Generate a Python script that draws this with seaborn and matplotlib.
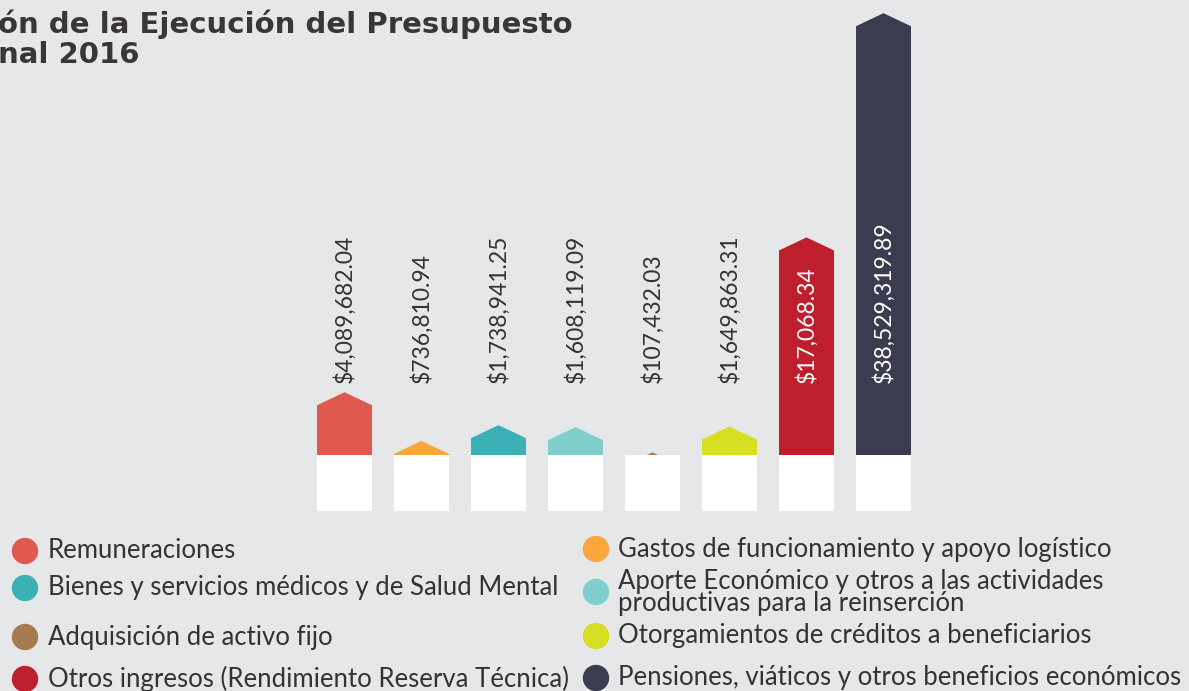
import numpy as np
import matplotlib
matplotlib.use("Agg")
import matplotlib.pyplot as plt
import seaborn as sns
from matplotlib.patches import Polygon, Rectangle
from matplotlib import transforms

# Budget execution by item (pesos)
categorias = [
    "Remuneraciones",
    "Gastos de funcionamiento y apoyo logístico",
    "Bienes y servicios médicos y de Salud Mental",
    "Aporte Económico y otros a las actividades\nproductivas para la reinserción",
    "Adquisición de activo fijo",
    "Otorgamientos de créditos a beneficiarios",
    "Otros ingresos (Rendimiento Reserva Técnica)",
    "Pensiones, viáticos y otros beneficios económicos",
]
montos = [4089682.04, 736810.94, 1738941.25, 1608119.09,
          107432.03, 1649863.31, 17068340.00, 38529319.89]
etiquetas = ["$4,089,682.04", "$736,810.94", "$1,738,941.25", "$1,608,119.09",
             "$107,432.03", "$1,649,863.31", "$17,068.34", "$38,529,319.89"]
colores = ["#e0594e", "#fba63c", "#3bb0b7", "#7fcfcf",
           "#a67b4f", "#d8df22", "#bf1e2d", "#3c3c50"]

titulo = "ón de la Ejecución del Presupuesto\nnal 2016"

FONDO = "#e6e7e9"
TEXTO = "#333333"
FUENTE = "Lato"

sns.set_theme(style="white")
plt.rcParams["font.family"] = [FUENTE, "DejaVu Sans"]

W, H = 1189, 691
fig = plt.figure(figsize=(W / 100, H / 100), dpi=100)
fig.patch.set_facecolor(FONDO)

# Bar area: zero line 455 px from the top
zero_px = 455
ax = fig.add_axes([306 / W, (H - zero_px) / H, 616 / W, zero_px / H])
ax.set_facecolor(FONDO)

sns.barplot(x=categorias, y=montos, hue=categorias, palette=colores,
            hue_order=categorias, order=categorias, legend=False,
            saturation=1, width=0.714, ax=ax)

# Compressed (power) value scale
p = 0.87
fwd = lambda y: np.sign(y) * np.abs(y) ** p
inv = lambda y: np.sign(y) * np.abs(y) ** (1 / p)
ax.set_yscale("function", functions=(fwd, inv))
ax.set_xlim(-0.5, len(categorias) - 0.5)
ax.set_ylim(0, inv(fwd(max(montos)) / 0.971))
ax.set_axis_off()

blend = transforms.blended_transform_factory(ax.transData, ax.transAxes)
roof_px = 13
base_frac = 56 / zero_px
label_y = 72 / zero_px

bars = sorted(ax.patches, key=lambda r: r.get_x())
for i, bar in enumerate(bars):
    x0, w, h = bar.get_x(), bar.get_width(), bar.get_height()
    xc, x1 = x0 + w / 2, x0 + w
    bar.set_visible(False)
    # house-shaped bar: body plus a pointed roof ending at the value
    px, py = ax.transData.transform((xc, h))
    ysh = ax.transData.inverted().transform((px, py - roof_px))[1]
    b = min(0, ysh)
    ax.add_patch(Polygon([(x0, b), (x0, ysh), (xc, h), (x1, ysh), (x1, b)],
                         closed=True, facecolor=bar.get_facecolor(),
                         edgecolor="none", zorder=2))
    # white plinth under each bar
    ax.add_patch(Rectangle((x0, -base_frac), w, base_frac, transform=blend,
                           facecolor="white", edgecolor="none",
                           zorder=3, clip_on=False))
    peak_frac = ax.transAxes.inverted().transform((px, py))[1]
    color = "white" if peak_frac > label_y + 0.3 else TEXTO
    ax.text(xc, label_y, etiquetas[i], transform=blend, rotation=90,
            ha="center", va="bottom", fontsize=16.5, color=color,
            fontweight="normal", zorder=4)

# Title and legend in pixel coordinates
ov = fig.add_axes([0, 0, 1, 1], facecolor="none")
ov.set_xlim(0, W)
ov.set_ylim(H, 0)
ov.set_axis_off()

ov.text(-2, 9, titulo, ha="left", va="top", fontsize=21, fontweight="bold",
        color="#3a3636", family="DejaVu Sans", linespacing=1.1)

izq = [0, 2, 4, 6]
der = [1, 3, 5, 7]
filas_izq = [551, 588, 637, 679]
filas_der = [549, 592, 636, 678]
for col, filas, cx, tx in ((izq, filas_izq, 25, 48), (der, filas_der, 596, 618)):
    for k, y in zip(col, filas):
        ov.scatter([cx], [y], s=360, color=colores[k], edgecolor="none",
                   clip_on=False)
        ov.text(tx, y, categorias[k], ha="left", va="center", fontsize=18.5,
                color=TEXTO, fontweight="normal", linespacing=0.85)

fig.savefig("out.png", dpi=100, facecolor=FONDO)
